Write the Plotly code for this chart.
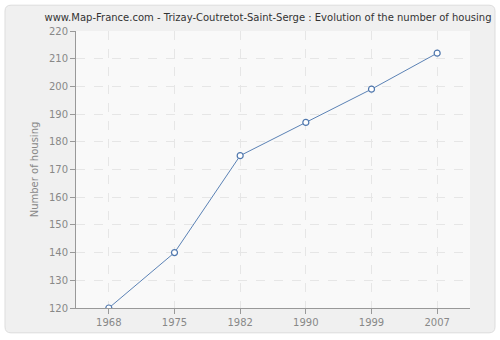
import plotly.graph_objects as go

years = ["1968", "1975", "1982", "1990", "1999", "2007"]
housing = [120, 140, 175, 187, 199, 212]

W, H = 500, 340
L, R, T, B = 76, 30, 31, 30
pw, ph = W - L - R, H - T - B

def px_x(p):
    return (p - L) / pw

def px_y(p):
    return 1 - (p - T) / ph

fig = go.Figure()
fig.add_trace(go.Scatter(
    x=years, y=housing, mode="lines+markers",
    line=dict(color="#5b82b5", width=1),
    marker=dict(symbol="circle", size=6, color="white",
                line=dict(color="#4f77ad", width=1.2)),
    hoverinfo="skip", showlegend=False,
))

# outer rounded panel
x0, x1, y0, y1 = px_x(5), px_x(495), px_y(335), px_y(5)
r = 6
rx, ry = r / pw, r / ph
path = (f"M {x0+rx},{y0} L {x1-rx},{y0} Q {x1},{y0} {x1},{y0+ry} "
        f"L {x1},{y1-ry} Q {x1},{y1} {x1-rx},{y1} L {x0+rx},{y1} "
        f"Q {x0},{y1} {x0},{y1-ry} L {x0},{y0+ry} Q {x0},{y0} {x0+rx},{y0} Z")
fig.add_shape(type="path", path=path, xref="paper", yref="paper",
              fillcolor="#f0f0f0", line=dict(color="#dddddd", width=1), layer="below")
fig.add_shape(type="rect", xref="paper", yref="paper", x0=0, x1=1, y0=0, y1=1,
              fillcolor="#f9f9f9", line=dict(width=0), layer="below")

fig.update_layout(
    width=W, height=H,
    margin=dict(l=L, r=R, t=T, b=B),
    paper_bgcolor="white",
    plot_bgcolor="rgba(0,0,0,0)",
    font=dict(family="DejaVu Sans", size=10, color="#888888"),
    title=dict(text="www.Map-France.com - Trizay-Coutretot-Saint-Serge : Evolution of the number of housing",
               x=268 / W, xref="container", xanchor="center", y=1 - 17 / H, yanchor="middle",
               font=dict(family="DejaVu Sans", size=10, color="#333333")),
    xaxis=dict(
        type="category", range=[-0.5, 5.5],
        showgrid=True, gridcolor="#e6e6e6", griddash="dash", gridwidth=1,
        showline=True, linecolor="#999999", linewidth=1,
        ticks="outside", ticklen=5, tickcolor="#999999",
        tickfont=dict(size=10, color="#888888"), zeroline=False,
    ),
    yaxis=dict(
        range=[120, 220], dtick=10,
        showgrid=True, gridcolor="#e6e6e6", griddash="dash", gridwidth=1,
        showline=True, linecolor="#999999", linewidth=1,
        ticks="outside", ticklen=5, tickcolor="#999999",
        tickfont=dict(size=10, color="#888888"), zeroline=False,
        title=dict(text="Number of housing", font=dict(size=10, color="#888888"), standoff=8),
    ),
)

fig.write_html("out.html")
